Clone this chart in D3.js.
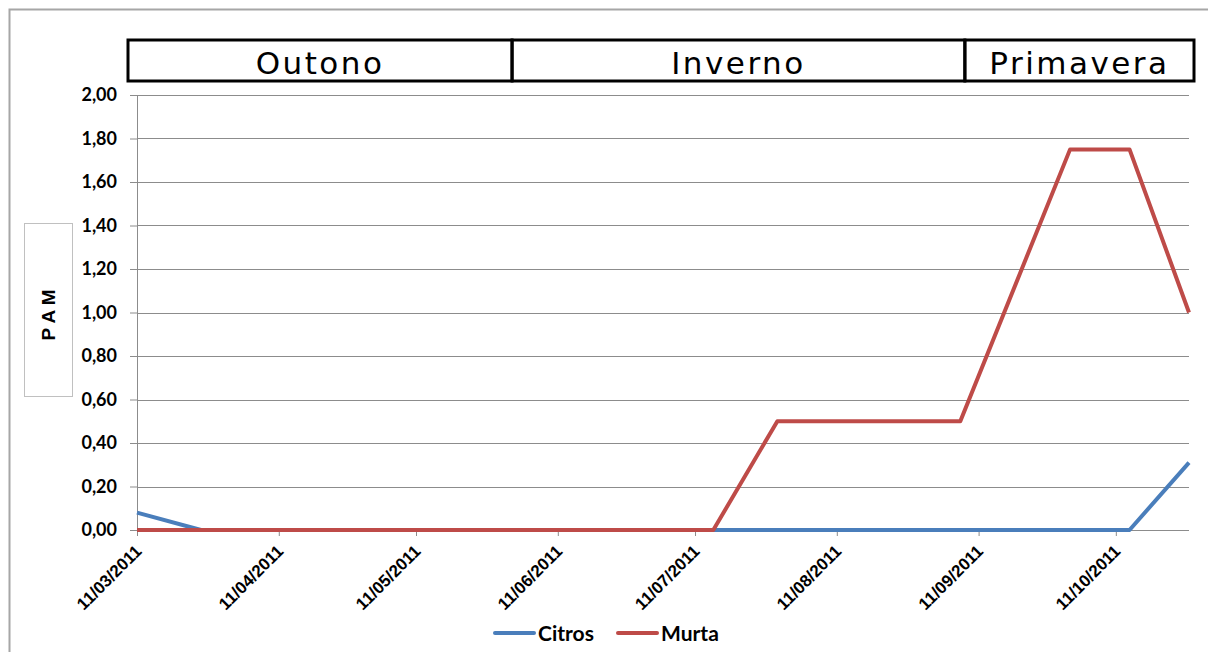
<!DOCTYPE html>
<html>
<head>
<meta charset="utf-8">
<script src="https://cdn.jsdelivr.net/npm/d3@7"></script>
<style>
  body { margin: 0; background: #fff; }
  svg { display: block; }
</style>
</head>
<body>
<div id="chart"></div>
<script>
"use strict"
// Data (dates are day/month/year)
var sampleDates = ["11/03/2011", "25/03/2011", "15/07/2011", "29/07/2011", "07/09/2011", "01/10/2011", "14/10/2011", "27/10/2011"];
var citros = [0.08, 0, 0, 0, 0, 0, 0, 0.31];
var murta = [0, 0, 0, 0.5, 0.5, 1.75, 1.75, 1.0];
var tickDates = ["11/03/2011", "11/04/2011", "11/05/2011", "11/06/2011", "11/07/2011", "11/08/2011", "11/09/2011", "11/10/2011"];
var seasons = ["Outono", "Inverno", "Primavera"];
var seasonStarts = ["11/03/2011", "01/06/2011", "08/09/2011"]; // where the header boxes split
var seriesNames = ["Citros", "Murta"];
var seriesColors = ["#4a7ebb", "#be4b48"];

var width = 1208, height = 652;
var margin = { top: 95, right: 19, bottom: 122, left: 137 };
var drawWidth = width - margin.left - margin.right;

var parseDate = d3.timeParse("%d/%m/%Y");
var formatDate = d3.timeFormat("%d/%m/%Y");

var xScale = d3.scaleTime()
    .domain([parseDate(sampleDates[0]), parseDate(sampleDates[sampleDates.length - 1])])
    .range([0, drawWidth]);
var yScale = d3.scaleLinear().domain([0, 2]).range([435, 0]);

var svg = d3.select("#chart").append("svg")
    .attr("width", width)
    .attr("height", height);

// outer chart frame (only top and left edges visible)
svg.append("rect")
    .attr("x", 9.5).attr("y", 9.5)
    .attr("width", width + 20).attr("height", height + 20)
    .attr("fill", "none")
    .attr("stroke", "#a6a6a6")
    .attr("stroke-width", 2);

var g = svg.append("g")
    .attr("transform", "translate(" + margin.left + "," + margin.top + ")");

// gridlines
var yTicks = d3.range(0, 2.0001, 0.2);
g.selectAll(".grid").data(yTicks).enter().append("line")
    .attr("class", "grid")
    .attr("x1", 0).attr("x2", drawWidth)
    .attr("y1", function (d) { return Math.round(yScale(d)) + 0.5 })
    .attr("y2", function (d) { return Math.round(yScale(d)) + 0.5 })
    .attr("stroke", "#8c8c8c")
    .attr("stroke-width", 1);

// y axis
var yAxis = d3.axisLeft(yScale)
    .tickValues(yTicks)
    .tickSize(7)
    .tickFormat(function (d) { return d3.format(".2f")(d).replace(".", ",") });
var gy = g.append("g").attr("class", "y axis").call(yAxis);
gy.attr("font-size", null).attr("font-family", null);
gy.select(".domain").attr("stroke", "#8c8c8c").attr("d", "M0.5,0V441");
gy.selectAll(".tick line").attr("stroke", "#8c8c8c");
gy.selectAll(".tick text")
    .attr("x", -20)
    .style("font-family", "Lato, 'Open Sans', sans-serif")
    .style("font-weight", "bold")
    .style("font-size", "18px")
    .attr("fill", "#000");

// x axis
var xAxis = d3.axisBottom(xScale)
    .tickValues(tickDates.map(parseDate))
    .tickSize(6)
    .tickFormat(formatDate);
var gx = g.append("g").attr("class", "x axis")
    .attr("transform", "translate(0," + yScale(0) + ")")
    .call(xAxis);
gx.attr("font-size", null).attr("font-family", null);
gx.select(".domain").remove();
gx.selectAll(".tick line").attr("stroke", "#8c8c8c");
gx.selectAll(".tick text")
    .attr("transform", "translate(1,18) rotate(-45)")
    .attr("x", 0).attr("y", 0).attr("dy", "0.35em")
    .style("text-anchor", "end")
    .style("font-family", "'Liberation Sans', Arial, sans-serif")
    .style("font-weight", "bold")
    .style("font-size", "17px")
    .attr("fill", "#000");

// lines
var line = d3.line()
    .x(function (d) { return xScale(d[0]) })
    .y(function (d) { return yScale(d[1]) });

[citros, murta].forEach(function (values, i) {
    var pts = sampleDates.map(function (s, j) { return [parseDate(s), values[j]] });
    g.append("path")
        .datum(pts)
        .attr("fill", "none")
        .attr("stroke", seriesColors[i])
        .attr("stroke-width", 4)
        .attr("stroke-linejoin", "round")
        .attr("d", line);
});

// season header boxes
var boxTop = 40, boxHeight = 41;
var edges = seasonStarts.map(function (s) { return margin.left + xScale(parseDate(s)) });
edges[0] = 128;
edges.push(1194);
seasons.forEach(function (name, i) {
    svg.append("rect")
        .attr("x", edges[i]).attr("y", boxTop)
        .attr("width", edges[i + 1] - edges[i]).attr("height", boxHeight)
        .attr("fill", "none")
        .attr("stroke", "#000")
        .attr("stroke-width", 3);
    svg.append("text")
        .attr("x", (edges[i] + edges[i + 1]) / 2)
        .attr("y", boxTop + 34)
        .attr("text-anchor", "middle")
        .style("font-family", "'DejaVu Sans', Verdana, sans-serif")
        .style("font-size", "31px")
        .style("letter-spacing", "2.5px")
        .text(name);
});

// y axis title in its box
svg.append("rect")
    .attr("x", 24.5).attr("y", 223.5)
    .attr("width", 48).attr("height", 173)
    .attr("fill", "#fff")
    .attr("stroke", "#c0c0c0");
svg.append("text")
    .attr("transform", "translate(55,315) rotate(-90)")
    .attr("text-anchor", "middle")
    .style("font-family", "'Liberation Sans', Arial, sans-serif")
    .style("font-weight", "bold")
    .style("font-size", "19px")
    .text("P A M");

// legend
var legendText = [538, 661];
seriesNames.forEach(function (name, i) {
    svg.append("line")
        .attr("x1", legendText[i] - 43).attr("x2", legendText[i] - 4)
        .attr("y1", 633).attr("y2", 633)
        .attr("stroke", seriesColors[i])
        .attr("stroke-width", 4)
        .attr("stroke-linecap", "round");
    svg.append("text")
        .attr("x", legendText[i])
        .attr("y", 641)
        .style("font-family", "Lato, 'Open Sans', sans-serif")
        .style("font-weight", "bold")
        .style("font-size", "21px")
        .text(name);
});
</script>
</body>
</html>
